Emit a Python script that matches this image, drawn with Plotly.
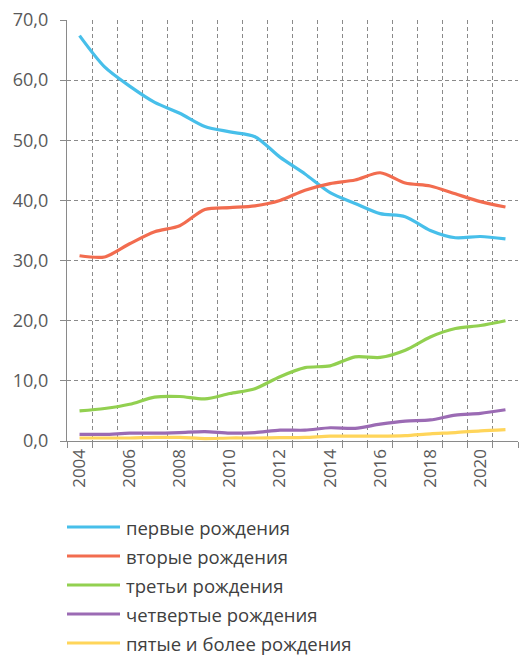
import plotly.graph_objects as go

# доля рождений по очередности, %
years = list(range(2004, 2022))
first_births = [67.4, 62.2, 59.0, 56.3, 54.5, 52.3, 51.4, 50.6, 47.2, 44.4,
                41.3, 39.5, 37.8, 37.3, 35.0, 33.8, 34.0, 33.6]
second_births = [30.8, 30.6, 32.8, 34.8, 35.8, 38.5, 38.8, 39.1, 40.0, 41.7,
                 42.8, 43.4, 44.6, 42.9, 42.4, 41.1, 39.8, 38.9]
third_births = [5.0, 5.4, 6.1, 7.3, 7.4, 7.0, 7.9, 8.7, 10.7, 12.2,
                12.5, 14.0, 13.9, 15.1, 17.3, 18.7, 19.2, 20.0]
fourth_births = [1.1, 1.1, 1.3, 1.3, 1.4, 1.55, 1.3, 1.4, 1.8, 1.8,
                 2.2, 2.1, 2.8, 3.3, 3.5, 4.3, 4.6, 5.2]
fifth_plus_births = [0.5, 0.5, 0.5, 0.6, 0.6, 0.4, 0.5, 0.5, 0.55, 0.6,
                     0.8, 0.8, 0.8, 0.9, 1.2, 1.4, 1.7, 1.9]

series = [
    ("первые рождения", first_births, "#47BFEA"),
    ("вторые рождения", second_births, "#F26C4F"),
    ("третьи рождения", third_births, "#92D050"),
    ("четвертые рождения", fourth_births, "#9B6BB4"),
    ("пятые и более рождения", fifth_plus_births, "#FFD55A"),
]

W, H = 519, 655
ML, MR, MT, MB = 67, 1, 20, 214
pw = W - ML - MR
ph = H - MT - MB

fig = go.Figure()
for name, vals, color in series:
    fig.add_trace(go.Scatter(
        x=years, y=vals, mode="lines", name=name,
        line=dict(color=color, width=3.2, shape="spline", smoothing=0.8),
        showlegend=False,
    ))

# легенда вручную (линии длиннее, чем в стандартной легенде plotly)
for i, (name, vals, color) in enumerate(series):
    py = 527 + i * 29
    yp = (H - MB - py) / ph
    fig.add_shape(type="line", xref="paper", yref="paper",
                  x0=0, x1=(120 - ML) / pw, y0=yp, y1=yp,
                  line=dict(color=color, width=3.2))
    fig.add_annotation(xref="paper", yref="paper", x=(124 - ML) / pw, y=yp,
                       text=name, showarrow=False, xanchor="left", yanchor="middle",
                       font=dict(size=18.5, color="#404040"))

grid = "#8a8a8a"
fig.update_layout(
    width=W, height=H,
    margin=dict(l=ML, r=MR, t=MT, b=MB),
    plot_bgcolor="white", paper_bgcolor="white",
    font=dict(family="Open Sans", color="#595959"),
    separators=", ",
    xaxis=dict(
        range=[2003.5, 2021.5], automargin=False,
        tickvals=years[::2], ticktext=[str(y) for y in years[::2]],
        tickangle=-90, ticks="", showgrid=False,
        tickfont=dict(size=17, color="#595959"),
        showline=True, linecolor=grid, linewidth=1.3,
        minor=dict(tick0=2003.5, dtick=1, showgrid=True, gridcolor=grid,
                   griddash="4px,3px", gridwidth=1,
                   ticks="outside", ticklen=6, tickcolor=grid),
        zeroline=False,
    ),
    yaxis=dict(
        range=[0, 70], dtick=10, tickformat=".1f", automargin=False,
        showgrid=True, gridcolor=grid, griddash="4px,3px", gridwidth=1,
        ticks="outside", ticklen=6, tickcolor=grid,
        tickfont=dict(size=18, color="#595959"),
        ticklabelstandoff=8,
        showline=True, linecolor=grid, linewidth=1.3,
        zeroline=False,
    ),
)

# убираем стандартный отступ body, чтобы график занимал всё окно
fig.write_html("out.html", config={"displayModeBar": False},
               post_script="document.body.style.margin='0';")
